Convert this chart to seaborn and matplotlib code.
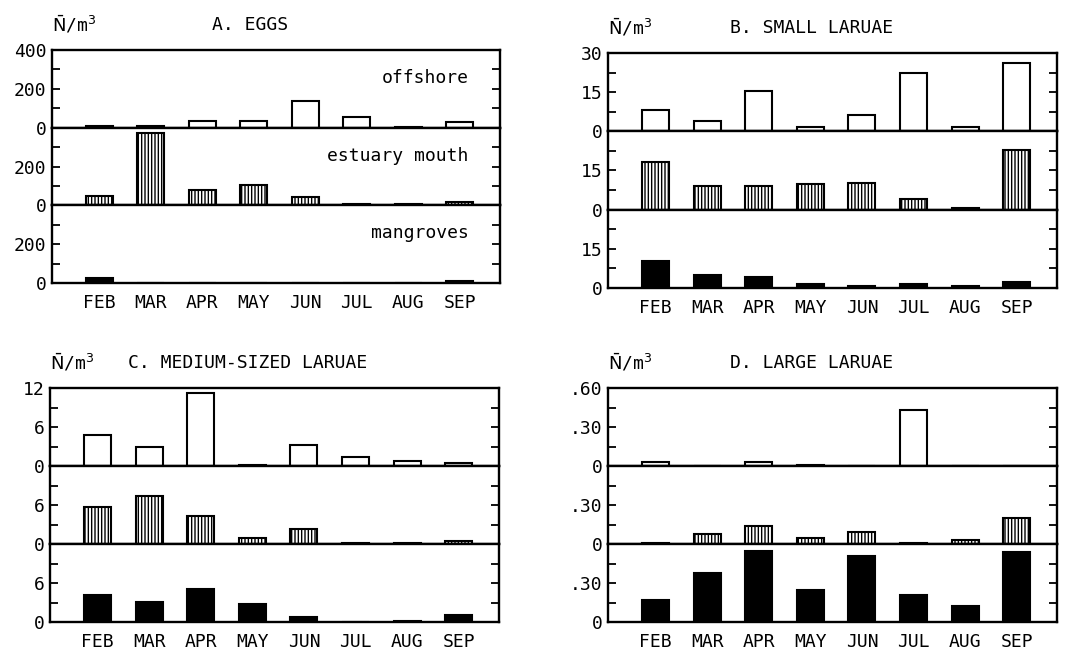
import numpy as np
import pandas as pd
import seaborn as sns
import matplotlib.pyplot as plt

# data (mean N per m3)
months = ['FEB', 'MAR', 'APR', 'MAY', 'JUN', 'JUL', 'AUG', 'SEP']

eggs_off = [8, 8, 35, 33, 135, 55, 5, 30]
eggs_est = [48, 370, 80, 104, 45, 5, 5, 19]
eggs_man = [25, 0, 0, 0, 0, 0, 0, 8]

small_off = [8.3, 4.1, 15.6, 1.8, 6.4, 22.2, 1.5, 26.3]
small_est = [18.2, 9.0, 9.0, 9.7, 10.3, 3.9, 0.5, 23.0]
small_man = [10.3, 5.1, 4.2, 1.7, 0.8, 1.6, 0.7, 2.4]

med_off = [4.7, 3.0, 11.2, 0.2, 3.2, 1.45, 0.8, 0.4]
med_est = [5.7, 7.4, 4.3, 0.9, 2.25, 0.15, 0.15, 0.4]
med_man = [4.1, 3.1, 5.1, 2.7, 0.75, 0.0, 0.1, 1.15]

large_off = [0.03, 0.0, 0.03, 0.01, 0.0, 0.43, 0.0, 0.0]
large_est = [0.01, 0.075, 0.14, 0.05, 0.09, 0.01, 0.03, 0.2]
large_man = [0.17, 0.38, 0.55, 0.25, 0.51, 0.21, 0.12, 0.535]

stations = ['offshore', 'estuary mouth', 'mangroves']

sns.set_style('ticks', {'axes.edgecolor': 'black', 'text.color': 'black',
                        'xtick.color': 'black', 'ytick.color': 'black'})
plt.rcParams['font.family'] = ['DejaVu Sans Mono', 'DejaVu Sans']
plt.rcParams['mathtext.fontset'] = 'dejavusans'
plt.rcParams['hatch.linewidth'] = 1.0

W, H = 1082, 653
fig = plt.figure(figsize=(W / 100, H / 100), dpi=100)

bar_style = [dict(color='white', edgecolor='black'),
             dict(color='white', edgecolor='black', hatch='|||||'),
             dict(color='black', edgecolor='black')]


def draw_panel(x0, x1, y0, y1, series, ymax, ylab, title, title_x, title_y, show_names=False):
    h = (y1 - y0) / 3
    axes = []
    for i, vals in enumerate(series):
        top = y0 + i * h
        ax = fig.add_axes([x0 / W, 1 - (top + h) / H, (x1 - x0) / W, h / H])
        df = pd.DataFrame({'month': months, 'n': vals})
        sns.barplot(data=df, x='month', y='n', order=months, ax=ax, width=0.52,
                    linewidth=1.5, **bar_style[i])
        ax.set_xlim(-0.92, 7.78)
        ax.set_ylim(0, ymax)
        ax.set_xlabel('')
        ax.set_ylabel('')
        ax.set_yticks(np.arange(0, ymax + ymax / 8, ymax / 4))
        labs = [ylab[0], '', ylab[1], '', ylab[2] if i == 0 else '']
        ax.set_yticklabels(labs, fontsize=13, color='black')
        ax.tick_params(axis='y', direction='in', left=True, right=True, length=6,
                       width=1.3, pad=4, colors='black')
        for s in ax.spines.values():
            s.set_linewidth(1.7)
            s.set_color('black')
            s.set_visible(True)
        if i < 2:
            ax.tick_params(axis='x', length=0, labelbottom=False)
        else:
            ax.tick_params(axis='x', length=0, labelsize=13, pad=8, labelcolor='black')
        if show_names:
            ax.text(0.93, 0.64, stations[i], transform=ax.transAxes, ha='right',
                    va='center', fontsize=13, color='black')
        axes.append(ax)
    fig.text(x0 / W, 1 - title_y / H, r'$\bar{\mathrm{N}}$/m$^{3}$', fontsize=13,
             ha='left', va='center', color='black')
    fig.text(title_x / W, 1 - title_y / H, title, fontsize=13, ha='left', va='center',
             color='black')
    return axes


draw_panel(52, 500, 50, 283, [eggs_off, eggs_est, eggs_man], 400,
           ['0', '200', '400'], 'A. EGGS', 212, 25, show_names=True)
draw_panel(608, 1057, 53, 288, [small_off, small_est, small_man], 30,
           ['0', '15', '30'], 'B. SMALL LARUAE', 730, 28)
draw_panel(50, 499, 388, 622, [med_off, med_est, med_man], 12,
           ['0', '6', '12'], 'C. MEDIUM-SIZED LARUAE', 128, 363)
draw_panel(608, 1057, 388, 622, [large_off, large_est, large_man], 0.6,
           ['0', '.30', '.60'], 'D. LARGE LARUAE', 730, 363)

fig.savefig('out.png', dpi=100)
